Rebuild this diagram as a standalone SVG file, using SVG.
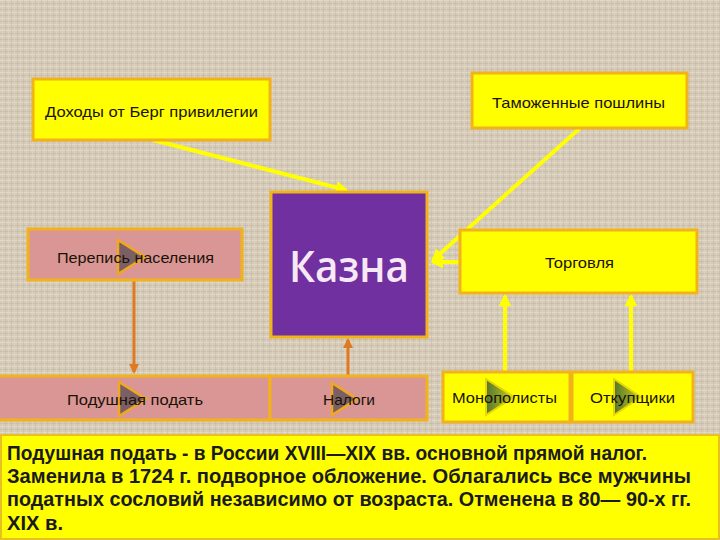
<svg xmlns="http://www.w3.org/2000/svg" width="720" height="540" viewBox="0 0 720 540">
<defs>
<pattern id="linen" width="6" height="6" patternUnits="userSpaceOnUse">
<rect width="6" height="6" fill="#d5cbb8"/>
<rect x="0" y="0" width="6" height="1" fill="#e2d9c8"/>
<rect x="0" y="3" width="6" height="1" fill="#c9bfab"/>
<rect x="2" y="0" width="1" height="6" fill="#ddd3c1" opacity="0.7"/>
<rect x="5" y="0" width="1" height="6" fill="#c6bca8" opacity="0.6"/>
</pattern>
<linearGradient id="gtri" x1="0" y1="0" x2="1" y2="0">
<stop offset="0" stop-color="#55752f"/>
<stop offset="1" stop-color="#c8d21a"/>
</linearGradient>
<marker id="ay" viewBox="0 0 10 10" refX="8" refY="5" markerWidth="3.2" markerHeight="3.2" orient="auto">
<path d="M0,0 L10,5 L0,10 Z" fill="#ffff00"/>
</marker>
<marker id="ao" viewBox="0 0 10 10" refX="8" refY="5" markerWidth="3.5" markerHeight="3.5" orient="auto">
<path d="M0,0 L10,5 L0,10 Z" fill="#e07a22"/>
</marker>
<style>
.yb{fill:#ffff00;stroke:#f2b21a;stroke-width:3}
.pb{fill:#d99694;stroke:#f2b21a;stroke-width:3}
.lbl{font-family:"Liberation Sans",Arial,sans-serif;font-size:15px;fill:#1a1208}
.ptri{fill:#7a6064;stroke:#f2a81e;stroke-width:2.5}
.gtri{fill:url(#gtri);stroke:#e8d800;stroke-width:2}
.yc{stroke:#ffff00;stroke-width:4;fill:none}
.oc{stroke:#e07a22;stroke-width:3;fill:none}
.note{font-family:"Liberation Sans Narrow","Liberation Sans",Arial,sans-serif;font-weight:bold;font-size:20px;fill:#1a1a1a}
</style>
</defs>
<rect width="720" height="540" fill="url(#linen)"/>

<g id="connectors">
<line class="yc" x1="153" y1="140" x2="346" y2="190" marker-end="url(#ay)"/>
<line class="yc" x1="580" y1="128" x2="433" y2="260" marker-end="url(#ay)"/>
<line class="yc" x1="460" y1="262" x2="433" y2="262" marker-end="url(#ay)"/>
<line class="yc" x1="505" y1="372" x2="505" y2="296" marker-end="url(#ay)"/>
<line class="yc" x1="631" y1="372" x2="631" y2="296" marker-end="url(#ay)"/>
<line class="oc" x1="134" y1="281" x2="134" y2="372" marker-end="url(#ao)"/>
<line class="oc" x1="348" y1="375" x2="348" y2="340" marker-end="url(#ao)"/>
</g>

<g id="dohody">
<rect class="yb" x="33" y="79" width="237" height="61"/>
<text class="lbl" x="45" y="117" textLength="213" lengthAdjust="spacingAndGlyphs">Доходы от Берг привилегии</text>
</g>

<g id="tamozh">
<rect class="yb" x="472" y="73" width="215" height="55"/>
<text class="lbl" x="492" y="108" textLength="173" lengthAdjust="spacingAndGlyphs">Таможенные пошлины</text>
</g>

<g id="kazna">
<rect x="271" y="192" width="156" height="145" fill="#7030a0" stroke="#f2b21a" stroke-width="3"/>
<text x="289" y="282" font-family="'Open Sans','Liberation Sans',Arial,sans-serif" font-size="44" font-weight="600" fill="#f7e8f6" textLength="120" lengthAdjust="spacingAndGlyphs">Казна</text>
</g>

<g id="perepis">
<rect class="pb" x="28" y="229" width="214" height="51"/>
<polygon class="ptri" points="118,240 118,274 145,257"/>
<text class="lbl" x="57" y="263" textLength="157" lengthAdjust="spacingAndGlyphs">Перепись населения</text>
</g>

<g id="torgovlya">
<rect class="yb" x="460" y="230" width="237" height="63"/>
<text class="lbl" x="545" y="268" textLength="69" lengthAdjust="spacingAndGlyphs">Торговля</text>
</g>

<g id="podushnaya">
<rect class="pb" x="-2" y="376" width="272" height="44"/>
<polygon class="ptri" points="119,382 119,416 146,399"/>
<text class="lbl" x="67" y="405" textLength="136" lengthAdjust="spacingAndGlyphs">Подушная подать</text>
</g>

<g id="nalogi">
<rect class="pb" x="270" y="376" width="157" height="44"/>
<polygon class="ptri" points="332,383 332,415 357,399"/>
<text class="lbl" x="323" y="405" textLength="52" lengthAdjust="spacingAndGlyphs">Налоги</text>
</g>

<g id="monopolisty">
<rect class="yb" x="443" y="372" width="127" height="50"/>
<polygon class="gtri" points="486,379 486,415 514,397"/>
<text class="lbl" x="452" y="403" textLength="105" lengthAdjust="spacingAndGlyphs">Монополисты</text>
</g>

<g id="otkupshchiki">
<rect class="yb" x="572" y="372" width="121" height="50"/>
<polygon class="gtri" points="614,379 614,415 641,397"/>
<text class="lbl" x="590" y="403" textLength="85" lengthAdjust="spacingAndGlyphs">Откупщики</text>
</g>

<g id="note">
<rect x="1" y="435" width="718" height="104" fill="#ffff00" stroke="#e8c020" stroke-width="2"/>
<text class="note" x="7" y="460" textLength="640" lengthAdjust="spacingAndGlyphs">Подушная подать - в России XVIII—XIX вв. основной прямой налог.</text>
<text class="note" x="7" y="483" textLength="684" lengthAdjust="spacingAndGlyphs">Заменила в 1724 г. подворное обложение. Облагались все мужчины</text>
<text class="note" x="7" y="506" textLength="684" lengthAdjust="spacingAndGlyphs">податных сословий независимо от возраста. Отменена в 80— 90-х гг.</text>
<text class="note" x="7" y="530" textLength="56" lengthAdjust="spacingAndGlyphs">XIX в.</text>
</g>
</svg>
